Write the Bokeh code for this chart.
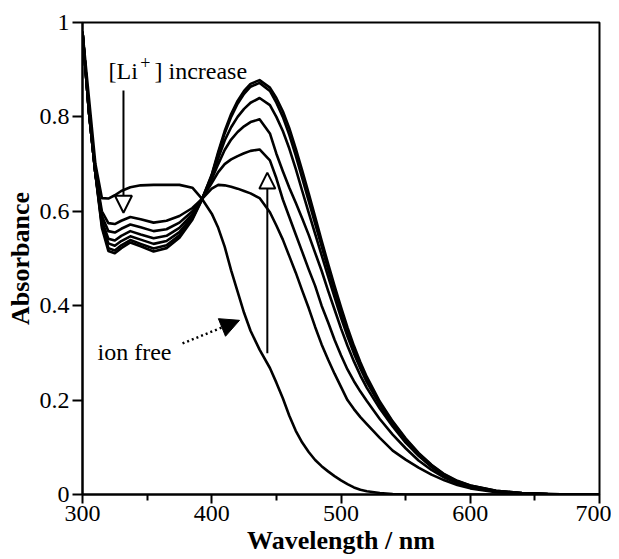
from bokeh.plotting import figure
from bokeh.models import Label, Arrow, NormalHead, FixedTicker, Range1d
from bokeh.embed import file_html
from bokeh.resources import INLINE

# ---- data ----
wavelength = [300, 305, 310, 315, 320, 325, 330, 337, 345, 355, 365, 375, 385, 392,
              400, 405, 410, 415, 420, 425, 430, 437, 445, 450, 455, 460, 465, 470,
              475, 480, 485, 490, 495, 500, 505, 510, 515, 520, 530, 540, 550, 560,
              570, 580, 590, 600, 620, 640, 660, 680, 700]

ion_free = [0.980, 0.840, 0.700, 0.628, 0.627, 0.634, 0.643, 0.651, 0.655, 0.656, 0.656, 0.656, 0.650, 0.628,
            0.595, 0.565, 0.525, 0.475, 0.430, 0.385, 0.347, 0.307, 0.268, 0.237, 0.204, 0.167, 0.135, 0.110,
            0.090, 0.073, 0.060, 0.049, 0.039, 0.030, 0.022, 0.015, 0.010, 0.007, 0.003, 0.001, 0.000, 0.000,
            0.000, 0.000, 0.000, 0.000, 0.000, 0.000, 0.000, 0.000, 0.000]

li_1 = [0.980, 0.810, 0.680, 0.600, 0.575, 0.573, 0.580, 0.588, 0.583, 0.576, 0.580, 0.590, 0.607, 0.625,
        0.648, 0.656, 0.655, 0.652, 0.648, 0.643, 0.638, 0.628, 0.598, 0.570, 0.540, 0.505, 0.470, 0.432,
        0.395, 0.355, 0.318, 0.286, 0.256, 0.228, 0.200, 0.181, 0.164, 0.149, 0.120, 0.093, 0.074, 0.057,
        0.042, 0.030, 0.020, 0.013, 0.005, 0.002, 0.0005, 0.000, 0.000]

li_2 = [0.980, 0.810, 0.680, 0.590, 0.558, 0.555, 0.563, 0.572, 0.566, 0.558, 0.562, 0.576, 0.600, 0.625,
        0.660, 0.683, 0.700, 0.710, 0.717, 0.723, 0.728, 0.731, 0.708, 0.670, 0.625, 0.588, 0.551, 0.514,
        0.477, 0.442, 0.400, 0.365, 0.328, 0.295, 0.265, 0.240, 0.218, 0.198, 0.160, 0.127, 0.098, 0.072,
        0.052, 0.036, 0.024, 0.016, 0.006, 0.002, 0.0005, 0.000, 0.000]

li_3 = [0.980, 0.810, 0.680, 0.580, 0.542, 0.538, 0.548, 0.558, 0.551, 0.543, 0.548, 0.565, 0.594, 0.624,
        0.668, 0.700, 0.730, 0.752, 0.768, 0.780, 0.789, 0.795, 0.765, 0.722, 0.685, 0.650, 0.618, 0.585,
        0.550, 0.512, 0.474, 0.432, 0.392, 0.352, 0.315, 0.282, 0.252, 0.226, 0.182, 0.144, 0.110, 0.082,
        0.058, 0.040, 0.027, 0.018, 0.007, 0.0025, 0.0007, 0.000, 0.000]

li_4 = [0.980, 0.810, 0.680, 0.575, 0.532, 0.527, 0.537, 0.547, 0.540, 0.531, 0.537, 0.556, 0.589, 0.623,
        0.672, 0.712, 0.750, 0.778, 0.800, 0.817, 0.830, 0.840, 0.825, 0.800, 0.770, 0.733, 0.690, 0.643,
        0.597, 0.552, 0.507, 0.462, 0.418, 0.375, 0.335, 0.299, 0.267, 0.238, 0.190, 0.150, 0.114, 0.085,
        0.060, 0.041, 0.027, 0.018, 0.007, 0.0025, 0.0007, 0.000, 0.000]

li_5 = [0.980, 0.810, 0.680, 0.570, 0.522, 0.517, 0.528, 0.539, 0.531, 0.521, 0.528, 0.549, 0.585, 0.623,
        0.676, 0.722, 0.765, 0.800, 0.828, 0.849, 0.864, 0.872, 0.855, 0.830, 0.800, 0.762, 0.718, 0.670,
        0.622, 0.574, 0.526, 0.478, 0.432, 0.388, 0.346, 0.308, 0.274, 0.244, 0.194, 0.153, 0.117, 0.087,
        0.062, 0.042, 0.028, 0.019, 0.008, 0.003, 0.0008, 0.000, 0.000]

li_6 = [0.980, 0.810, 0.680, 0.565, 0.516, 0.511, 0.522, 0.534, 0.526, 0.515, 0.522, 0.544, 0.582, 0.622,
        0.678, 0.726, 0.770, 0.806, 0.834, 0.855, 0.870, 0.878, 0.862, 0.840, 0.812, 0.776, 0.733, 0.686,
        0.638, 0.588, 0.538, 0.489, 0.442, 0.397, 0.354, 0.315, 0.280, 0.249, 0.197, 0.155, 0.119, 0.088,
        0.063, 0.043, 0.029, 0.019, 0.008, 0.003, 0.0008, 0.000, 0.000]

spectra = [ion_free, li_1, li_2, li_3, li_4, li_5, li_6]

x_major_ticks = [300, 400, 500, 600, 700]
x_minor_ticks = [350, 450, 550, 650]
y_major_ticks = [0, 0.2, 0.4, 0.6, 0.8, 1.0]
y_tick_labels = ["0", "0.2", "0.4", "0.6", "0.8", "1"]

FONT = "Liberation Serif"

p = figure(width=611, height=559, x_range=Range1d(300, 700), y_range=Range1d(0, 1),
           output_backend="svg", toolbar_location=None,
           min_border_left=82, min_border_right=12, min_border_top=22, min_border_bottom=65,
           x_axis_label="Wavelength / nm", y_axis_label="Absorbance")

for ys in spectra:
    p.line(wavelength, ys, line_color="black", line_width=2.6, line_join="round")

p.grid.visible = False
p.outline_line_color = "black"
p.outline_line_width = 2
p.outline_line_alpha = 1
p.background_fill_color = "white"
p.border_fill_color = "white"

p.xaxis.ticker = FixedTicker(ticks=x_major_ticks, minor_ticks=x_minor_ticks)
p.yaxis.ticker = FixedTicker(ticks=y_major_ticks, minor_ticks=[])
p.yaxis.major_label_overrides = {t: lab for t, lab in zip(y_major_ticks, y_tick_labels)}

for ax in (p.xaxis[0], p.yaxis[0]):
    ax.axis_line_width = 2
    ax.axis_line_color = "black"
    ax.major_tick_line_width = 2
    ax.minor_tick_line_width = 2
    ax.major_tick_in = 0
    ax.minor_tick_in = 0
    ax.major_label_text_font = FONT
    ax.major_label_text_font_size = "24px"
    ax.major_label_text_color = "black"
    ax.axis_label_text_font = FONT
    ax.axis_label_text_font_style = "bold"
    ax.axis_label_text_font_size = "26px"
    ax.axis_label_text_color = "black"

p.xaxis.major_tick_out = 9
p.xaxis.minor_tick_out = 6
p.xaxis.major_label_standoff = 2
p.xaxis.axis_label_standoff = 2
p.yaxis.major_tick_out = 10
p.yaxis.minor_tick_out = 0
p.yaxis.major_label_standoff = 3
p.yaxis.axis_label_standoff = 2

# ---- annotations ----
def lab(x, y, text, size="24px"):
    p.add_layout(Label(x=x, y=y, text=text, text_font=FONT, text_font_size=size,
                       text_color="black", text_baseline="alphabetic", text_align="left"))

lab(320.1, 0.898, "[Li")
lab(344.6, 0.915, "+", size="18px")
lab(355.7, 0.898, "] increase")
lab(311.6, 0.301, "ion free")

# down arrow ([Li+] increase)
p.add_layout(Arrow(end=NormalHead(size=17, fill_color="white", line_color="black", line_width=2),
                   x_start=331.7, y_start=0.856, x_end=331.7, y_end=0.597,
                   line_color="black", line_width=2))
# up arrow
p.add_layout(Arrow(end=NormalHead(size=16, fill_color="white", line_color="black", line_width=2),
                   x_start=443.0, y_start=0.299, x_end=443.0, y_end=0.682,
                   line_color="black", line_width=2))
# ion free dotted arrow
p.add_layout(Arrow(end=NormalHead(size=19, fill_color="black", line_color="black", line_width=1),
                   x_start=377.4, y_start=0.320, x_end=421.5, y_end=0.369,
                   line_color="black", line_width=2.5, line_dash="2 3"))

open("out.html", "w").write(file_html(p, INLINE))
